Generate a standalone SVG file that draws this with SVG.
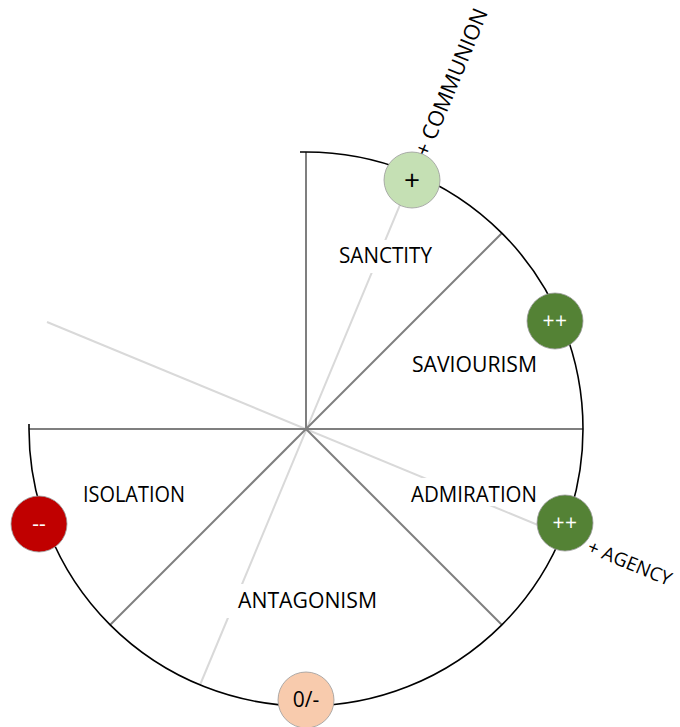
<svg xmlns="http://www.w3.org/2000/svg" width="680" height="727" viewBox="0 0 680 727">
  <style>
    .spoke { stroke: #7f7f7f; stroke-width: 2; fill: none; }
    .axis { stroke: #d9d9d9; stroke-width: 2; fill: none; }
    .rim { stroke: #000; stroke-width: 1.6; fill: none; }
    .lbl { font-family: "Open Sans", "Liberation Sans", sans-serif; fill: #000; }
    .box { fill: #fff; }
    .dot { stroke: #9a9a9a; stroke-width: 0.8; }
    .dtxt { font-family: "Open Sans", "Liberation Sans", sans-serif; text-anchor: middle; }
  </style>

  <!-- axes of the two dimensions (light) -->
  <g id="connectors">
    <line class="axis" x1="47" y1="322" x2="562" y2="535"/>
    <line class="axis" x1="200" y1="685" x2="412" y2="176"/>

    <!-- sector dividers -->
    <line class="spoke" x1="306" y1="429" x2="306" y2="152"/>
    <line class="spoke" x1="306" y1="429" x2="502" y2="233"/>
    <line class="spoke" x1="306" y1="429" x2="583" y2="429"/>
    <line class="spoke" x1="306" y1="429" x2="502" y2="625"/>
    <line class="spoke" x1="306" y1="429" x2="110" y2="625"/>
    <line class="spoke" x1="306" y1="429" x2="29" y2="429"/>

    <!-- outer rim, three quarters of a circle -->
    <path class="rim" d="M300,152 L306,152 A277,277 0 1 1 29,429 L29,424"/>
  </g>

  <!-- sector labels -->
  <g id="sanctity">
    <rect class="box" x="336" y="240" width="100" height="33"/>
    <text class="lbl" x="339" y="263" font-size="21" textLength="93" lengthAdjust="spacingAndGlyphs">SANCTITY</text>
  </g>
  <g id="saviourism">
    <rect class="box" x="408" y="349" width="132" height="33"/>
    <text class="lbl" x="412" y="372" font-size="21" textLength="125" lengthAdjust="spacingAndGlyphs">SAVIOURISM</text>
  </g>
  <g id="admiration">
    <rect class="box" x="405" y="478" width="136" height="28"/>
    <text class="lbl" x="411" y="502" font-size="21" textLength="126" lengthAdjust="spacingAndGlyphs">ADMIRATION</text>
  </g>
  <g id="isolation">
    <rect class="box" x="79" y="479" width="110" height="30"/>
    <text class="lbl" x="83" y="502" font-size="21" textLength="102" lengthAdjust="spacingAndGlyphs">ISOLATION</text>
  </g>
  <g id="antagonism">
    <rect class="box" x="226" y="584" width="160" height="34"/>
    <text class="lbl" x="238" y="608" font-size="21" textLength="139" lengthAdjust="spacingAndGlyphs">ANTAGONISM</text>
  </g>

  <!-- dimension names -->
  <g id="communion-label">
    <text class="lbl" transform="translate(428,158) rotate(-67.5)" font-size="21.5">+ COMMUNION</text>
  </g>
  <g id="agency-label">
    <text class="lbl" transform="translate(586,552) rotate(22.5)" font-size="19">+ AGENCY</text>
  </g>

  <!-- valence markers on the rim -->
  <g id="marker-sanctity">
    <circle class="dot" cx="412" cy="180" r="28" fill="#c5e0b4"/>
    <text class="dtxt" x="412" y="190" fill="#000" font-size="28">+</text>
  </g>
  <g id="marker-saviourism">
    <circle class="dot" cx="555" cy="321" r="28" fill="#548235"/>
    <text class="dtxt" x="555" y="328" fill="#fff" font-size="21" letter-spacing="0.5">++</text>
  </g>
  <g id="marker-admiration">
    <circle class="dot" cx="565" cy="523" r="28" fill="#548235"/>
    <text class="dtxt" x="565" y="530" fill="#fff" font-size="21" letter-spacing="0.5">++</text>
  </g>
  <g id="marker-isolation">
    <circle class="dot" cx="39" cy="524" r="28" fill="#c00000"/>
    <text class="dtxt" x="39" y="531" fill="#fff" font-size="21">--</text>
  </g>
  <g id="marker-antagonism">
    <circle class="dot" cx="306" cy="700" r="28" fill="#f8cbad"/>
    <text class="dtxt" x="306" y="707" fill="#000" font-size="21">0/-</text>
  </g>
</svg>
